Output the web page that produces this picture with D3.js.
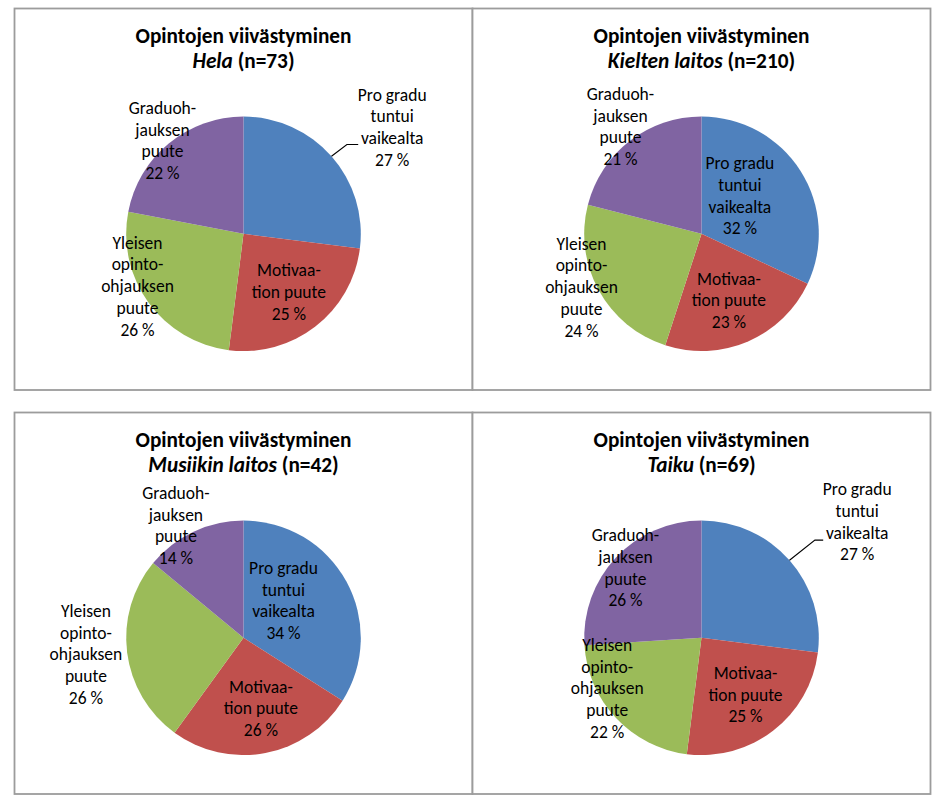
<!DOCTYPE html>
<html><head><meta charset="utf-8">
<script src="https://cdn.jsdelivr.net/npm/d3@7"></script>
<style>
body{margin:0;background:#fff}
svg{display:block}
text{font-family:Carlito,Calibri,Lato,"Open Sans",sans-serif}
</style></head><body>
<script>
// ---- data ----
const categories = ["Pro gradu tuntui vaikealta", "Motivaation puute", "Yleisen opinto-ohjauksen puute", "Graduohjauksen puute"];
const labelLines = [["Pro gradu", "tuntui", "vaikealta"], ["Motivaa-", "tion puute"], ["Yleisen", "opinto-", "ohjauksen", "puute"], ["Graduoh-", "jauksen", "puute"]];
const chartTitle = "Opintojen viivästyminen";
const units = ["Hela", "Kielten laitos", "Musiikin laitos", "Taiku"];
const respondents = [73, 210, 42, 69];
const helaValues = [27, 25, 26, 22];
const kieltenValues = [32, 23, 24, 21];
const musiikinValues = [34, 26, 26, 14];
const taikuValues = [27, 25, 22, 26];
const seriesValues = [helaValues, kieltenValues, musiikinValues, taikuValues];
const colors = ["#4F81BD", "#C0504D", "#9BBB59", "#8064A2"];

// ---- layout ----
const W = 942, H = 808;
const panels = [
  {x: 14.5, y: 8.5}, {x: 472.5, y: 8.5},
  {x: 14.5, y: 412.5}, {x: 472.5, y: 412.5}
];
const panelW = 458, panelH = 381.5;
const cx = 229, cy = 225.3, R = 117.3;
const lineH = 21.7;
// label anchor: center x offset, first baseline offset (relative to pie centre)
const labelPos = [
  [[148.7, -133.3], [45.4, 42.7], [-106, 15], [-81, -120]],
  [[38.4, -64.7], [27.4, 51], [-120, 16], [-81, -134]],
  [[40, -64], [17.4, 55], [-157.6, -21], [-67.6, -139]],
  [[155.7, -142.7], [44, 41.3], [-94.3, 13.3], [-76, -96.7]]
];
// leader lines (elbow, end) for slices with outside labels
const leaders = [
  {slice: 0, elbow: [103.4, -89.3], end: [114.7, -89.3]},
  null, null,
  {slice: 0, elbow: [113.4, -97.7], end: [121.7, -97.7]}
];

const svg = d3.select("body").append("svg").attr("width", W).attr("height", H);
svg.append("rect").attr("width", W).attr("height", H).attr("fill", "#fff");

const pie = d3.pie().sort(null).value(d => d);
const arc = d3.arc().innerRadius(0).outerRadius(R);
const edgeArc = d3.arc().innerRadius(R).outerRadius(R);

panels.forEach((p, i) => {
  const g = svg.append("g").attr("transform", `translate(${p.x},${p.y})`);
  g.append("rect").attr("width", panelW).attr("height", panelH)
    .attr("fill", "#fff").attr("stroke", "#9c9c9c").attr("stroke-width", 1.8);

  const t = g.append("text").attr("text-anchor", "middle")
    .attr("font-weight", "bold").attr("font-size", 21.3).attr("fill", "#000");
  t.append("tspan").attr("x", cx).attr("y", 34.8).text(chartTitle);
  const l2 = t.append("tspan").attr("x", cx).attr("y", 59.8);
  l2.append("tspan").attr("font-style", "italic").text(units[i]);
  l2.append("tspan").text(` (n=${respondents[i]})`);

  const pg = g.append("g").attr("transform", `translate(${cx},${cy})`);
  const arcs = pie(seriesValues[i]);
  pg.selectAll("path").data(arcs).join("path")
    .attr("d", arc).attr("fill", (d, j) => colors[j]);

  const ld = leaders[i];
  if (ld) {
    const s = edgeArc.centroid(arcs[ld.slice]);
    pg.append("path")
      .attr("d", d3.line()([s, ld.elbow, ld.end]))
      .attr("fill", "none").attr("stroke", "#000").attr("stroke-width", 1.1);
  }

  arcs.forEach((a, j) => {
    const [lx, ly] = labelPos[i][j];
    const lt = pg.append("text").attr("text-anchor", "middle")
      .attr("font-size", 17.5).attr("fill", "#000");
    const lines = labelLines[j].concat([`${seriesValues[i][j]} %`]);
    lines.forEach((s, k) => {
      lt.append("tspan").attr("x", lx).attr("y", ly + k * lineH).text(s);
    });
  });
});
</script>
</body></html>
